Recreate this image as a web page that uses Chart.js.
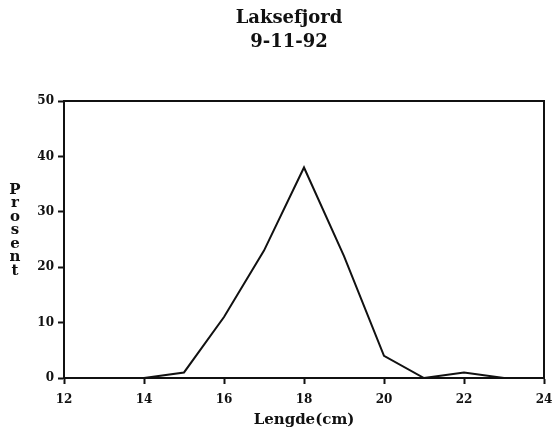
<!DOCTYPE html>
<html>
<head>
<meta charset="utf-8">
<script src="https://cdn.jsdelivr.net/npm/chart.js@4/dist/chart.umd.min.js"></script>
<style>
    html, body { margin: 0; padding: 0; background: #fff; }
    #wrap { width: 554px; height: 439px; position: relative; }
</style>
</head>
<body>
<div id="wrap"><canvas id="lengthChart"></canvas></div>
<script>
// Length distribution, Laksefjord 9-11-92
const lengths = [14, 15, 16, 17, 18, 19, 20, 21, 22, 23];
const percent = [0, 1, 11, 23, 38, 22, 4, 0, 1, 0];
const xTicks = [12, 14, 16, 18, 20, 22, 24];
const yTicks = [0, 10, 20, 30, 40, 50];
const titleLines = ['Laksefjord', '9-11-92'];
const yLabel = 'Prosent';
const xLabel = 'Lengde(cm)';

const FONT = '"DejaVu Serif", "Liberation Serif", serif';

// Draws the title and the stacked y label
const textPlugin = {
    id: 'textPlugin',
    afterDraw(chart) {
        const ctx = chart.ctx;
        ctx.save();
        ctx.fillStyle = '#111';
        ctx.textAlign = 'center';
        ctx.textBaseline = 'middle';
        ctx.font = 'bold 18px ' + FONT;
        ctx.fillText(titleLines[0], 289, 18);
        ctx.fillText(titleLines[1], 289, 42);

        ctx.font = 'bold 15px ' + FONT;
        const letters = yLabel.split('');
        letters.forEach((ch, i) => {
            ctx.fillText(ch, 15, 190 + i * 13.5);
        });
        ctx.restore();
    }
};

const ctx = document.getElementById('lengthChart').getContext('2d');

new Chart(ctx, {
    type: 'line',
    data: {
        datasets: [{
            data: lengths.map((x, i) => ({ x: x, y: percent[i] })),
            borderColor: '#111',
            borderWidth: 2,
            pointRadius: 0,
            tension: 0,
            fill: false
        }]
    },
    options: {
        responsive: true,
        maintainAspectRatio: false,
        animation: false,
        layout: { padding: { top: 101, right: 10, left: 0, bottom: 0 } },
        plugins: {
            legend: { display: false },
            tooltip: { enabled: false }
        },
        scales: {
            x: {
                type: 'linear',
                min: 12,
                max: 24,
                afterBuildTicks: (scale) => { scale.ticks = xTicks.map(v => ({ value: v })); },
                afterFit: (scale) => {
                    scale.height = 61;
                    scale.paddingRight = 0;
                    scale.paddingLeft = 0;
                },
                grid: { display: true, drawOnChartArea: false, drawTicks: true, tickLength: 6, tickColor: '#111', tickWidth: 2 },
                border: { color: '#111', width: 2 },
                ticks: {
                    color: '#111',
                    padding: 9,
                    maxRotation: 0,
                    font: { family: FONT, size: 12, weight: 'bold' }
                },
                title: {
                    display: true,
                    text: xLabel,
                    color: '#111',
                    padding: { top: 0, bottom: 10 },
                    font: { family: FONT, size: 15, weight: 'bold' }
                }
            },
            y: {
                min: 0,
                max: 50,
                afterBuildTicks: (scale) => { scale.ticks = yTicks.map(v => ({ value: v })); },
                afterFit: (scale) => {
                    scale.width = 64;
                    scale.paddingTop = 0;
                    scale.paddingBottom = 0;
                },
                grid: { display: true, drawOnChartArea: false, drawTicks: true, tickLength: 6, tickColor: '#111', tickWidth: 2 },
                border: { color: '#111', width: 2 },
                ticks: {
                    color: '#111',
                    padding: 4,
                    font: { family: FONT, size: 12, weight: 'bold' }
                }
            }
        }
    },
    plugins: [textPlugin, {
        // box around the plot area
        id: 'frame',
        afterDraw(chart) {
            const a = chart.chartArea;
            const c = chart.ctx;
            c.save();
            c.strokeStyle = '#111';
            c.lineWidth = 2;
            c.beginPath();
            c.moveTo(a.left, a.top);
            c.lineTo(a.right, a.top);
            c.lineTo(a.right, a.bottom);
            c.stroke();
            c.restore();
        }
    }]
});
</script>
</body>
</html>
